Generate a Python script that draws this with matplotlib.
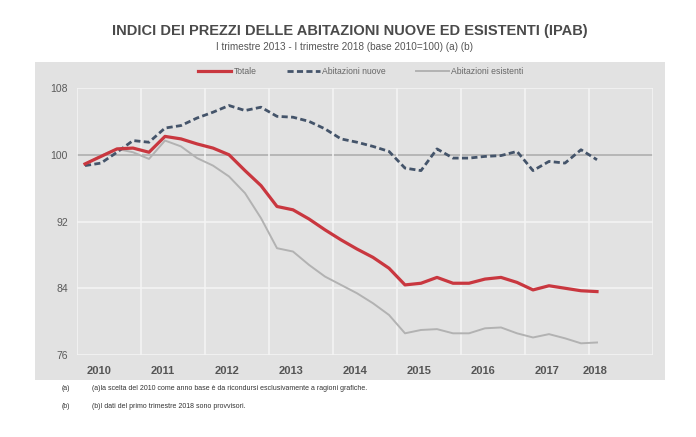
import numpy as np
import matplotlib
matplotlib.use("Agg")
import matplotlib.pyplot as plt
from matplotlib.patches import Rectangle

plt.rcParams['font.family'] = ['Liberation Sans', 'DejaVu Sans']

# quarterly index values, I trim 2010 .. I trim 2018 (base 2010=100)
years = ["2010", "2011", "2012", "2013", "2014", "2015", "2016", "2017", "2018"]
totale = [98.9, 99.8, 100.7, 100.8, 100.3, 102.2, 101.9, 101.3, 100.8, 100.0, 98.1, 96.3,
          93.8, 93.4, 92.3, 91.0, 89.8, 88.7, 87.7, 86.4, 84.4, 84.6, 85.3, 84.6,
          84.6, 85.1, 85.3, 84.7, 83.8, 84.3, 84.0, 83.7, 83.6]
nuove = [98.7, 99.0, 100.3, 101.7, 101.5, 103.2, 103.5, 104.4, 105.1, 105.9, 105.3, 105.7,
         104.6, 104.5, 104.0, 103.1, 101.9, 101.5, 101.0, 100.4, 98.4, 98.1, 100.7, 99.6,
         99.6, 99.8, 99.9, 100.4, 98.1, 99.2, 99.0, 100.6, 99.4]
esistenti = [98.9, 99.9, 100.7, 100.3, 99.5, 101.7, 101.0, 99.6, 98.7, 97.4, 95.4, 92.4,
             88.8, 88.4, 86.8, 85.4, 84.4, 83.4, 82.2, 80.8, 78.6, 79.0, 79.1, 78.6,
             78.6, 79.2, 79.3, 78.6, 78.1, 78.5, 78.0, 77.4, 77.5]
yticks = [76, 84, 92, 100, 108]

W, H = 696, 437
fig = plt.figure(figsize=(W / 100, H / 100), dpi=100)
fig.patch.set_facecolor("white")

# grey panel behind the chart
fig.patches.append(Rectangle((35 / W, 1 - 380 / H), (665 - 35) / W, (380 - 62) / H,
                             transform=fig.transFigure, facecolor="#e2e2e2",
                             edgecolor="none", zorder=0))

ax = fig.add_axes([77 / W, 1 - 355 / H, (653 - 77) / W, (355 - 88) / H])
ax.set_zorder(2)
ax.set_facecolor("none")
x = np.arange(len(totale))

for v in yticks:
    if v == 100:
        ax.axhline(v, color="#b3b3b3", lw=1.3, zorder=1)
    else:
        ax.axhline(v, color="#f4f4f4", lw=1.2, zorder=1)
for xv in np.arange(-0.5, 36, 4):
    ax.axvline(xv, color="#f4f4f4", lw=1.2, zorder=1)

ax.plot(x, esistenti, color="#b2b2b2", lw=1.4, label="Abitazioni esistenti", zorder=3)
ax.plot(x, nuove, color="#44546a", lw=2.0, ls=(0, (2.2, 1.2)), label="Abitazioni nuove", zorder=4)
ax.plot(x, totale, color="#c9373f", lw=2.3, label="Totale", zorder=5)

ax.set_xlim(-0.5, 35.5)
ax.set_ylim(76, 108)
ax.set_yticks(yticks)
ax.set_yticklabels([str(v) for v in yticks], color="#5a5a5a", fontsize=7.5)
xt = [0.85 + 4 * i for i in range(8)] + [31.9]
ax.set_xticks(xt)
ax.set_xticklabels(years, fontweight="bold", color="#555555", fontsize=8)
ax.tick_params(length=0)
ax.tick_params(axis="y", pad=6.5)
ax.tick_params(axis="x", pad=8)
for s in ax.spines.values():
    s.set_visible(False)

h, l = ax.get_legend_handles_labels()
order = [2, 1, 0]
fig.legend([h[i] for i in order], [l[i] for i in order], loc="center",
           bbox_to_anchor=(361 / W, 1 - 72 / H), ncol=3, frameon=False,
           fontsize=6.2, handlelength=3.8, handletextpad=0.3, columnspacing=3.5,
           labelcolor="#666666")

fig.text(350 / W, 1 - 31 / H, "INDICI DEI PREZZI DELLE ABITAZIONI NUOVE ED ESISTENTI (IPAB)",
         ha="center", va="center", fontsize=10.5, fontweight="bold", color="#4a4a4a")
fig.text(345 / W, 1 - 47 / H, "I trimestre 2013 - I trimestre 2018 (base 2010=100) (a) (b)",
         ha="center", va="center", fontsize=7.2, color="#555555")

fig.text(62 / W, 1 - 389 / H, "(a)", ha="left", va="center", fontsize=5.0, color="#333333")
fig.text(92 / W, 1 - 389 / H,
         "(a)la scelta del 2010 come anno base è da ricondursi esclusivamente a ragioni grafiche.",
         ha="left", va="center", fontsize=5.0, color="#333333")
fig.text(62 / W, 1 - 406 / H, "(b)", ha="left", va="center", fontsize=5.0, color="#333333")
fig.text(92 / W, 1 - 406 / H, "(b)I dati del primo trimestre 2018 sono provvisori.",
         ha="left", va="center", fontsize=5.0, color="#333333")

fig.savefig("out.png", dpi=100)
